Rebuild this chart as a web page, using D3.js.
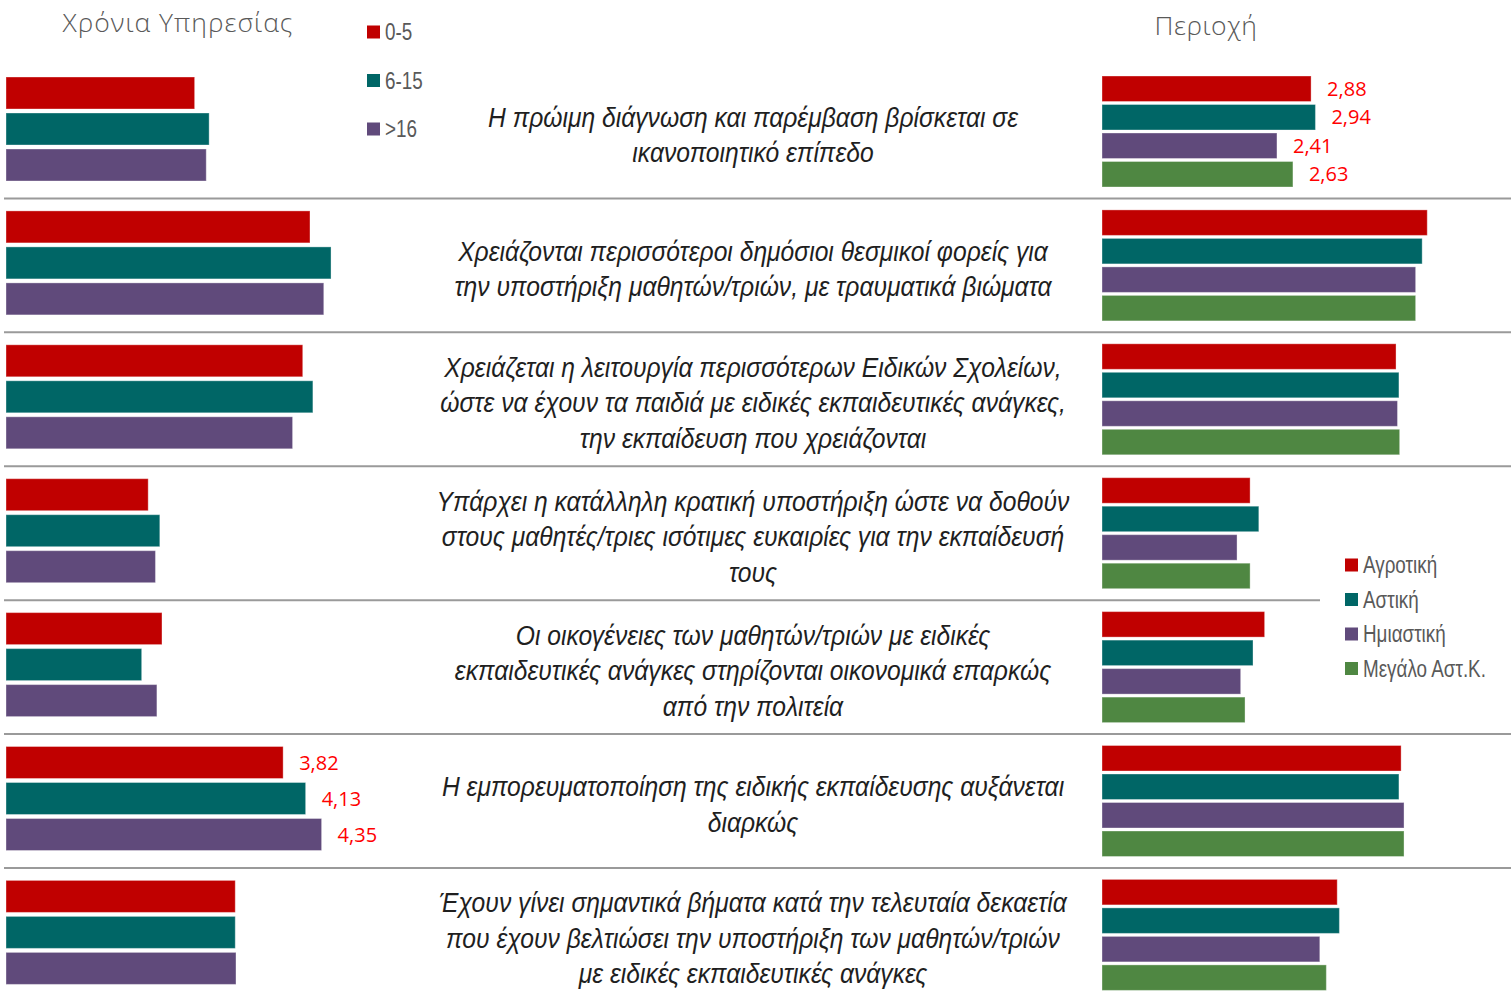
<!DOCTYPE html>
<html lang="el">
<head>
<meta charset="utf-8">
<script src="https://cdn.jsdelivr.net/npm/d3@7"></script>
<style>
  html, body { margin: 0; padding: 0; background: #fff; }
  svg { display: block; }
</style>
</head>
<body>
<svg id="chart" width="1511" height="1000"></svg>
<script>
// Statements (one per row), each split into its display lines
const statements = [
  ["Η πρώιμη διάγνωση και παρέμβαση βρίσκεται σε", "ικανοποιητικό επίπεδο"],
  ["Χρειάζονται περισσότεροι δημόσιοι θεσμικοί φορείς για", "την υποστήριξη μαθητών/τριών, με τραυματικά βιώματα"],
  ["Χρειάζεται η λειτουργία περισσότερων Ειδικών Σχολείων,", "ώστε να έχουν τα παιδιά με ειδικές εκπαιδευτικές ανάγκες,", "την εκπαίδευση που χρειάζονται"],
  ["Υπάρχει η κατάλληλη κρατική υποστήριξη ώστε να δοθούν", "στους μαθητές/τριες ισότιμες ευκαιρίες για την εκπαίδευσή", "τους"],
  ["Οι οικογένειες των μαθητών/τριών με ειδικές", "εκπαιδευτικές ανάγκες στηρίζονται οικονομικά επαρκώς", "από την πολιτεία"],
  ["Η εμπορευματοποίηση της ειδικής εκπαίδευσης αυξάνεται", "διαρκώς"],
  ["Έχουν γίνει σημαντικά βήματα κατά την τελευταία δεκαετία", "που έχουν βελτιώσει την υποστήριξη των μαθητών/τριών", "με ειδικές εκπαιδευτικές ανάγκες"]
];

// Years of service
const yearGroups = ["0-5", "6-15", ">16"];
const years0to5   = [2.60, 4.19, 4.09, 1.96, 2.15, 3.82, 3.16];
const years6to15  = [2.80, 4.48, 4.23, 2.12, 1.87, 4.13, 3.16];
const yearsOver16 = [2.76, 4.38, 3.95, 2.06, 2.08, 4.35, 3.17];

// Area
const areaGroups = ["Αγροτική", "Αστική", "Ημιαστική", "Μεγάλο Αστ.Κ."];
const rural     = [2.88, 4.48, 4.05, 2.04, 2.24, 4.12, 3.24];
const urban     = [2.94, 4.41, 4.09, 2.16, 2.08, 4.09, 3.27];
const semiUrban = [2.41, 4.32, 4.07, 1.86, 1.91, 4.16, 3.00];
const metro     = [2.63, 4.32, 4.10, 2.04, 1.97, 4.16, 3.09];

// Rows whose bars carry value labels
const labelledYearRow = 5;
const labelledAreaRow = 0;

const yearSeries = [years0to5, years6to15, yearsOver16];
const areaSeries = [rural, urban, semiUrban, metro];
const yearColors = ["#c00000", "#006666", "#604a7b"];
const areaColors = ["#c00000", "#006666", "#604a7b", "#4f8742"];

const W = 1511, H = 1000;
const svg = d3.select("#chart");
const narrow = 0.82;          // condensed look for legend labels
const narrowBody = 0.866;     // condensed look for the statements
const bodyFont = "'Liberation Sans', Arial, sans-serif";
const roundFont = "'Open Sans', 'DejaVu Sans', sans-serif";
const fmt = v => d3.format(".2f")(v).replace(".", ",");

const rows = d3.range(statements.length);
const rowScale = d3.scaleBand().domain(rows).range([76, 76 + 7 * 133.9]);
const groupH = 111;

const yYears = d3.scaleBand().domain(yearGroups).range([1, 105]).paddingInner(0.111);
const yAreas = d3.scaleBand().domain(areaGroups).range([0, groupH]).paddingInner(0.105);

const xYears = d3.scaleLinear().domain([0, 5]).range([6, 6 + 5 * 72.55]);
const xAreas = d3.scaleLinear().domain([0, 5]).range([1102, 1102 + 5 * 72.6]);

// Right legend block (used to cut the divider that runs into it)
const legendX = 1345, legendY0 = 565, legendStep = 34.5;
const legendTop = legendY0 - 20, legendBottom = legendY0 + 3 * legendStep + 20;

// Dividers between rows
const dividers = d3.range(rows.length - 1).map(i => rowScale(i) + groupH + (rowScale.step() - groupH) / 2);
svg.append("g").selectAll("line").data(dividers).join("line")
  .attr("x1", 4)
  .attr("x2", d => (d > legendTop && d < legendBottom) ? legendX - 25 : W)
  .attr("y1", d => d).attr("y2", d => d)
  .attr("stroke", "#9a9a9a").attr("stroke-width", 2);

// Left panel bars: years of service
const leftG = svg.append("g");
rows.forEach(r => {
  const g = leftG.append("g").attr("transform", `translate(0,${rowScale(r)})`);
  g.selectAll("rect").data(yearGroups.map((k, j) => ({ k, v: yearSeries[j][r], c: yearColors[j] })))
    .join("rect")
    .attr("x", xYears(0))
    .attr("y", d => yYears(d.k))
    .attr("width", d => xYears(d.v) - xYears(0))
    .attr("height", yYears.bandwidth())
    .attr("fill", d => d.c)
    .attr("stroke", "rgba(255,255,255,0.35)").attr("stroke-width", 1);
  if (r === labelledYearRow) {
    g.selectAll("text.val").data(yearGroups.map((k, j) => ({ k, v: yearSeries[j][r] })))
      .join("text").attr("class", "val")
      .attr("x", d => xYears(d.v) + 16)
      .attr("y", d => yYears(d.k) + yYears.bandwidth() / 2)
      .attr("dy", "0.36em")
      .attr("font-family", roundFont).attr("font-size", 20).attr("fill", "#ff0000")
      .text(d => fmt(d.v));
  }
});

// Right panel bars: area
const rightG = svg.append("g");
rows.forEach(r => {
  const g = rightG.append("g").attr("transform", `translate(0,${rowScale(r)})`);
  g.selectAll("rect").data(areaGroups.map((k, j) => ({ k, v: areaSeries[j][r], c: areaColors[j] })))
    .join("rect")
    .attr("x", xAreas(0))
    .attr("y", d => yAreas(d.k))
    .attr("width", d => xAreas(d.v) - xAreas(0))
    .attr("height", yAreas.bandwidth())
    .attr("fill", d => d.c)
    .attr("stroke", "rgba(255,255,255,0.35)").attr("stroke-width", 1);
  if (r === labelledAreaRow) {
    g.selectAll("text.val").data(areaGroups.map((k, j) => ({ k, v: areaSeries[j][r] })))
      .join("text").attr("class", "val")
      .attr("x", d => xAreas(d.v) + 16)
      .attr("y", d => yAreas(d.k) + yAreas.bandwidth() / 2)
      .attr("dy", "0.36em")
      .attr("font-family", roundFont).attr("font-size", 20).attr("fill", "#ff0000")
      .text(d => fmt(d.v));
  }
});

// Statements in the middle column
const textX = 753, lineH = 35.5;
rows.forEach(r => {
  const lines = statements[r];
  const cy = rowScale(r) + groupH / 2 + 3;
  const g = svg.append("g").attr("transform", `translate(${textX},${cy}) scale(${narrowBody},1)`);
  g.selectAll("text").data(lines).join("text")
    .attr("x", 0)
    .attr("y", (d, i) => (i - (lines.length - 1) / 2) * lineH)
    .attr("dy", "0.35em")
    .attr("text-anchor", "middle")
    .attr("font-family", bodyFont).attr("font-style", "italic")
    .attr("font-size", 28.5).attr("fill", "#1f1f1f")
    .text(d => d);
});

// Panel titles
svg.append("text").attr("x", 178).attr("y", 32).attr("text-anchor", "middle")
  .attr("font-family", roundFont).attr("font-weight", 300).attr("font-size", 26.5)
  .attr("letter-spacing", 1).attr("fill", "#595959").text("Χρόνια Υπηρεσίας");
svg.append("text").attr("x", 1206).attr("y", 35).attr("text-anchor", "middle")
  .attr("font-family", roundFont).attr("font-weight", 300).attr("font-size", 26.5)
  .attr("letter-spacing", 0.5).attr("fill", "#595959").text("Περιοχή");

// Legend: years of service
const legL = svg.append("g");
yearGroups.forEach((k, j) => {
  const y = 32 + j * 48.5;
  legL.append("rect").attr("x", 367).attr("y", y - 6.5).attr("width", 13).attr("height", 13).attr("fill", yearColors[j]);
  legL.append("text").attr("transform", `translate(385,${y}) scale(${narrow},1)`)
    .attr("dy", "0.36em").attr("font-family", bodyFont).attr("font-size", 23)
    .attr("fill", "#595959").text(k);
});

// Legend: area
const legR = svg.append("g");
areaGroups.forEach((k, j) => {
  const y = legendY0 + j * legendStep;
  legR.append("rect").attr("x", legendX).attr("y", y - 6.5).attr("width", 13).attr("height", 13).attr("fill", areaColors[j]);
  legR.append("text").attr("transform", `translate(${legendX + 18},${y}) scale(${narrow},1)`)
    .attr("dy", "0.36em").attr("font-family", bodyFont).attr("font-size", 23)
    .attr("fill", "#595959").text(k);
});
</script>
</body>
</html>
